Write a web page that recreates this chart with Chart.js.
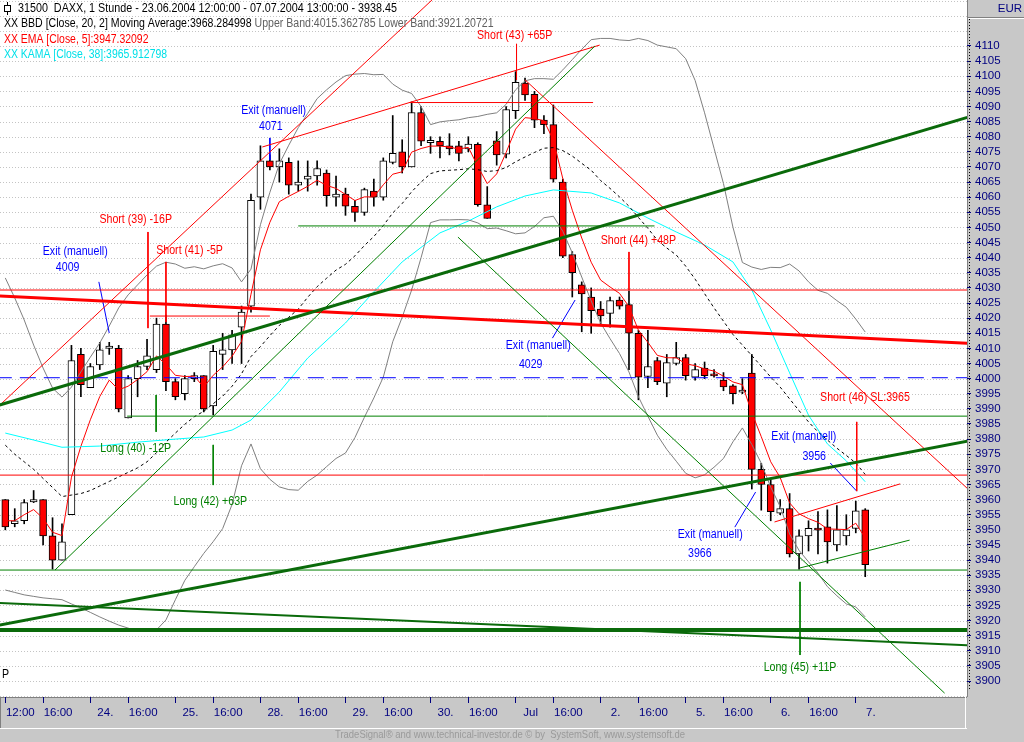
<!DOCTYPE html>
<html>
<head>
<meta charset="utf-8">
<script src="https://cdn.jsdelivr.net/npm/chart.js@4.4.1/dist/chart.umd.min.js"></script>
<style>
  html, body { margin: 0; padding: 0; background: #c8c8c8; }
  #wrap { position: relative; width: 1024px; height: 742px; }
</style>
</head>
<body>
<div id="wrap"><canvas id="chart" width="1024" height="742"></canvas></div>
<script>
// DAXX hourly bars, 23.06.2004 12:00 - 07.07.2004 13:00 (bar index 0..91)
const opens = [3960, 3952, 3953, 3959.2, 3960, 3948, 3940, 3955, 4008, 3997,
  4004.5, 4010, 4010, 3987, 4000, 4004, 4003, 4018, 3999, 3995,
  4000, 4001, 3991, 4008, 4009.5, 4017, 4024, 4060, 4072, 4070,
  4071.5, 4064, 4066, 4067, 4068, 4060, 4061, 4057, 4055, 4062,
  4060, 4071.5, 4075, 4070, 4088, 4078, 4078.5, 4077, 4077, 4076,
  4077.5, 4057.5, 4078.6, 4074.2, 4088.6, 4097.7, 4094, 4085.5, 4084, 4065,
  4041, 4031, 4027, 4023, 4021.6, 4026, 4024.5, 4015, 4000.7, 4006,
  3998.5, 4005, 4007, 4000.5, 4003.5, 4001.6, 3999.5, 3997.6, 3995.5, 4001.8,
  3970, 3965, 3955.5, 3957, 3942, 3948, 3950.6, 3951, 3945, 3948,
  3950.5, 3956.6];
const highs = [3960, 3957, 3960, 3963, 3960, 3954, 3952, 4011, 4010, 4005,
  4012, 4012, 4011, 4001, 4006, 4013, 4020, 4021, 4000, 4001,
  4002, 4001, 4011, 4015, 4016, 4024, 4061, 4077, 4074, 4076,
  4073, 4072, 4072, 4072, 4069, 4067, 4063, 4059, 4063, 4066,
  4073, 4087, 4079, 4091.5, 4090, 4080, 4080, 4081, 4078.5, 4080,
  4078, 4063.5, 4081.7, 4090, 4101.5, 4099.4, 4095, 4087, 4090.5, 4066,
  4042, 4032, 4030, 4025.5, 4027, 4027, 4029, 4016, 4016, 4007,
  4008, 4012, 4008, 4005, 4005.5, 4003, 4002, 3998, 4000, 4008,
  3972, 3966.5, 3960, 3962, 3950, 3953, 3956, 3956.6, 3958, 3955,
  3959.5, 3957];
const lows = [3950, 3951, 3952, 3959, 3945, 3937, 3940, 3955, 3994, 3997,
  4003, 4008, 3989, 3987, 3994, 4003, 4002, 3996, 3993, 3993,
  3999, 3989, 3988, 4003, 4005, 4005, 4022, 4056, 4069, 4065,
  4061, 4062, 4062, 4064, 4057, 4057, 4054, 4052, 4054, 4057,
  4059, 4071, 4068, 4070, 4077, 4074.5, 4073, 4074, 4072, 4075,
  4057, 4053, 4070.6, 4073, 4086, 4092, 4083, 4081, 4065, 4040,
  4027, 4015.5, 4015, 4017.7, 4017, 4023, 4003, 3993, 3997, 3998,
  3994, 4004.5, 3999.5, 3999.5, 4000, 4000.5, 3996, 3991.6, 3995, 3963.5,
  3956.5, 3953, 3955, 3941, 3937, 3943, 3942, 3939, 3943, 3945,
  3949, 3934.5];
const closes = [3951, 3953, 3959, 3960, 3948, 3940, 3946, 4006, 3998, 4004,
  4009.5, 4010.8, 3990, 4000, 4004, 4007.5, 4018, 3999, 3994, 4000,
  4001, 3990, 4009, 4009.5, 4014.5, 4022, 4059, 4072, 4070, 4072,
  4064, 4065, 4067, 4069.5, 4060.5, 4061, 4057, 4055, 4062.5, 4060,
  4072, 4074.5, 4070, 4088, 4078.5, 4078.8, 4077, 4076, 4074.5, 4077.6,
  4057.5, 4053, 4074, 4089, 4098, 4093.8, 4085.5, 4084, 4066, 4040.5,
  4035, 4028, 4022.5, 4020.7, 4025.8, 4024, 4015, 4000.5, 4004, 3999,
  4005.3, 4007, 4001, 4003, 4001, 4000.9, 3997.3, 3995, 3996.2, 3970,
  3965, 3956, 3957, 3942, 3948, 3950.5, 3949.9, 3946, 3950, 3950,
  3956.3, 3938.45];

// Bollinger bands (20, 2)
const bbUpper = [4033.3, 4026.7, 4019.4, 4011.1, 4003.5, 3996.9, 3993.9, 3997.2, 4002.2, 4007.1,
  4011.8, 4017.4, 4023.4, 4027.7, 4031.0, 4034.3, 4037.2, 4038.5, 4037.9, 4036.5,
  4037.0, 4036.3, 4037.3, 4038.0, 4036.6, 4032.0, 4036.2, 4050.9, 4061.6, 4071.0,
  4077.2, 4083.0, 4087.7, 4092.6, 4095.5, 4098.1, 4100.2, 4100.7, 4100.9, 4100.5,
  4100.6, 4097.4, 4095.4, 4094.3, 4090.0, 4084.0, 4084.9, 4085.3, 4085.6, 4086.3,
  4086.7, 4087.4, 4087.9, 4090.7, 4095.5, 4098.5, 4099.2, 4099.2, 4099.0, 4102.1,
  4105.5, 4108.9, 4112.1, 4112.5, 4112.5, 4112.0, 4111.8, 4112.5, 4111.8, 4110.3,
  4109.7, 4109.1, 4105.8, 4098.6, 4087.9, 4076.2, 4064.5, 4050.1, 4038.4, 4036.9,
  4036.1, 4036.8, 4036.7, 4037.9, 4035.6, 4032.0, 4029.2, 4028.2, 4025.8, 4023.6,
  4019.7, 4015.4];
const bbMid = [3978.0, 3975.0, 3972.5, 3970.0, 3967.0, 3964.0, 3961.0, 3961.5, 3962.0, 3963.0,
  3964.5, 3966.0, 3967.5, 3969.0, 3970.5, 3972.5, 3975.5, 3979.0, 3982.0, 3984.9,
  3987.4, 3989.2, 3991.7, 3994.2, 3997.5, 4001.6, 4007.3, 4010.6, 4014.2, 4017.6,
  4020.3, 4023.0, 4026.9, 4030.4, 4033.2, 4035.9, 4037.8, 4040.6, 4044.0, 4047.0,
  4050.6, 4054.8, 4057.9, 4061.8, 4065.0, 4067.8, 4068.7, 4068.9, 4069.1, 4069.4,
  4069.1, 4068.5, 4068.8, 4069.8, 4071.7, 4073.3, 4074.8, 4076.2, 4076.4, 4075.4,
  4073.6, 4071.2, 4068.9, 4065.5, 4062.9, 4060.1, 4057.0, 4053.3, 4049.7, 4045.8,
  4043.2, 4040.9, 4037.2, 4032.9, 4028.1, 4023.4, 4019.0, 4014.6, 4011.1, 4007.6,
  4004.1, 4000.5, 3997.2, 3993.3, 3989.4, 3985.7, 3982.4, 3979.7, 3977.0, 3974.6,
  3972.1, 3968.3];
const bbLower = [3930.1, 3929.3, 3928.5, 3928.0, 3927.5, 3927.2, 3926.9, 3925.5, 3924.2, 3922.7,
  3921.2, 3919.8, 3918.5, 3917.5, 3916.6, 3916.6, 3916.9, 3920.2, 3926.9, 3933.3,
  3937.8, 3942.2, 3946.1, 3950.4, 3958.4, 3971.2, 3978.4, 3970.2, 3966.7, 3964.2,
  3963.3, 3963.1, 3966.0, 3968.1, 3970.9, 3973.6, 3975.4, 3980.5, 3987.2, 3993.6,
  4000.5, 4012.2, 4020.3, 4029.3, 4040.0, 4051.6, 4052.5, 4052.5, 4052.6, 4052.5,
  4051.5, 4049.6, 4049.8, 4048.9, 4047.9, 4048.2, 4050.3, 4053.2, 4053.7, 4048.7,
  4041.6, 4033.6, 4025.7, 4018.4, 4013.2, 4008.3, 4002.2, 3994.0, 3987.6, 3981.3,
  3976.6, 3972.7, 3968.7, 3967.2, 3968.2, 3970.7, 3973.6, 3979.1, 3983.7, 3978.2,
  3972.0, 3964.1, 3957.7, 3948.6, 3943.2, 3939.4, 3935.7, 3931.2, 3928.2, 3925.5,
  3924.5, 3921.2];

// EMA (Close, 5)
const ema5 = [3953.0, 3953.0, 3955.0, 3956.7, 3953.8, 3949.2, 3948.1, 3967.4, 3977.6, 3986.4,
  3994.1, 3999.5, 3996.3, 3997.5, 3999.7, 4002.3, 4007.5, 4004.7, 4001.1, 4000.7,
  4000.8, 3997.2, 4001.1, 4003.9, 4007.4, 4012.3, 4027.9, 4042.6, 4051.7, 4058.5,
  4060.3, 4061.9, 4063.6, 4065.6, 4063.9, 4062.9, 4060.9, 4058.9, 4060.1, 4060.1,
  4064.1, 4067.6, 4068.4, 4074.9, 4076.1, 4076.9, 4076.9, 4076.6, 4075.9, 4076.5,
  4070.2, 4064.5, 4067.7, 4074.8, 4082.5, 4086.3, 4086.0, 4085.3, 4078.9, 4066.1,
  4055.7, 4046.5, 4038.5, 4032.6, 4030.3, 4028.2, 4023.8, 4016.0, 4012.0, 4007.7,
  4006.9, 4006.9, 4004.9, 4004.3, 4003.2, 4002.5, 4000.8, 3998.9, 3998.0, 3988.7,
  3980.8, 3972.5, 3967.3, 3958.9, 3955.3, 3953.7, 3952.5, 3950.3, 3950.2, 3950.1,
  3952.2, 3947.3];

// KAMA (Close, 38), read at selected bars
const kamaBar = [0, 3, 6, 10, 14, 18, 21, 24, 26, 29, 32, 36, 39, 42, 46, 49, 52, 55, 58,
  62, 65, 68, 71, 74, 77, 79, 81, 83, 85, 87, 89, 91];
const kamaVal = [3982.0, 3979.7, 3977.3, 3977.7, 3979.0, 3980.0, 3980.7, 3983.0, 3986.3, 3995.6,
  4006.8, 4018.4, 4028.7, 4038.6, 4048.2, 4052.1, 4056.8, 4060.4, 4062.4,
  4061.4, 4058.1, 4053.1, 4048.5, 4044.2, 4038.6, 4029.3, 4016.1, 4001.9, 3987.9, 3978.4,
  3972.8, 3965.9];

// axis ticks
const xTickBar = [0, 4, 9, 13, 18, 22, 27, 31, 36, 40, 45, 49, 54, 58, 63, 67, 72, 76, 81, 85, 90];
const xTickText = ['12:00', '16:00', '24.', '16:00', '25.', '16:00', '28.', '16:00', '29.', '16:00',
  '30.', '16:00', 'Jul', '16:00', '2.', '16:00', '5.', '16:00', '6.', '16:00', '7.'];
const yTickValues = [];
for (let v = 3900; v <= 4110; v += 5) yTickValues.push(v);

const RED = '#ff0000', GREEN = '#008000', DKGREEN = '#0a6a0a', BLUE = '#0000ff';

// drawn trend lines: [bar1, price1, bar2, price2, colour, width, dash]
const trendLines = [
  [-0.6, 3991.3, 101.8, 4086.4, DKGREEN, 3],
  [-0.6, 3918.5, 101.8, 3979.3, DKGREEN, 3],
  [-1, 3916.9, 103, 3916.9, DKGREEN, 4],
  [-0.6, 3925.8, 101.8, 3911.8, DKGREEN, 2],
  [-1, 3936.7, 103, 3936.7, GREEN, 1],
  [12.9, 3987.6, 103, 3987.6, GREEN, 1],
  [31, 4050.5, 68.7, 4050.5, GREEN, 1],
  [5.26, 3936.7, 62.4, 4110.0, GREEN, 1],
  [47.9, 4046.8, 99.4, 3896.0, GREEN, 1],
  [84.1, 3937.4, 95.7, 3946.6, GREEN, 1],
  [15.96, 3994.6, 15.96, 3982.4, GREEN, 1],
  [22, 3978.1, 22, 3964.8, GREEN, 1],
  [84.1, 3932.8, 84.1, 3908.6, GREEN, 1],
  [-0.56, 3991.3, 45.15, 4125.2, RED, 1],
  [27.2, 4076.6, 62.9, 4110.3, RED, 1],
  [42.8, 4091.3, 62.2, 4091.3, RED, 1],
  [55, 4098.8, 101.8, 3963.7, RED, 1],
  [-0.6, 4027.3, 101.8, 4011.7, RED, 3],
  [-1, 4029.3, 103, 4029.3, RED, 1],
  [-1, 3968.1, 103, 3968.1, RED, 1],
  [15.3, 4020.7, 28, 4020.7, RED, 1],
  [81.4, 3952.6, 94.7, 3965.2, RED, 1],
  [15.1, 4048.5, 15.1, 4016.7, RED, 1],
  [17.0, 4038.6, 17.0, 4018.7, RED, 1],
  [54.1, 4110.7, 54.1, 4098.8, RED, 1],
  [66.0, 4041.9, 66.0, 4029.3, RED, 1],
  [90.1, 3985.7, 90.1, 3962.8, RED, 1],
  [-1, 4000.3, 103, 4000.3, BLUE, 1, [16, 8]],
  [9.9, 4032.0, 11.0, 4015.1, BLUE, 1],
  [28.0, 4079.6, 28.0, 4072.3, BLUE, 1],
  [60.3, 4026.0, 57.9, 4013.4, BLUE, 1],
  [79.4, 3962.5, 77.2, 3950.9, BLUE, 1],
  [87.3, 3972.1, 90.1, 3962.8, BLUE, 1]
];

// trade labels: [text, bar, price, colour]
const labels = [
  ['Exit (manuell)', 7.4, 4041.9, BLUE], ['4009', 6.6, 4036.6, BLUE],
  ['Short (39) -16P', 13.8, 4052.5, RED], ['Short (41) -5P', 19.5, 4042.5, RED],
  ['Exit (manuell)', 28.4, 4088.8, BLUE], ['4071', 28.1, 4083.2, BLUE],
  ['Short (43) +65P', 53.9, 4113.6, RED], ['Short (44) +48P', 67.0, 4045.8, RED],
  ['Exit (manuell)', 56.4, 4010.8, BLUE], ['4029', 55.6, 4004.5, BLUE],
  ['Long (40) -12P', 13.8, 3977.0, GREEN], ['Long (42) +63P', 21.7, 3959.2, GREEN],
  ['Exit (manuell)', 74.6, 3948.3, BLUE], ['3966', 73.5, 3942.3, BLUE],
  ['Exit (manuell)', 84.5, 3980.7, BLUE], ['3956', 85.6, 3974.1, BLUE],
  ['Short (46) SL:3965', 90.97, 3993.6, RED], ['Long (45) +11P', 84.1, 3904.6, GREEN]
];

const FONT = '"Liberation Sans", Arial, sans-serif';

function drawText(ctx, s, x, y, color, align, size, sx) {
  ctx.save();
  ctx.font = size + 'px ' + FONT;
  ctx.fillStyle = color;
  ctx.textBaseline = 'middle';
  ctx.textAlign = align;
  const w = ctx.measureText(s).width * sx;
  ctx.translate(x, y);
  ctx.scale(sx, 1);
  ctx.fillText(s, 0, 0);
  ctx.restore();
  return w;
}

const framePlugin = {
  id: 'frame',
  beforeDraw(chart) {
    const ctx = chart.ctx, a = chart.chartArea;
    ctx.save();
    ctx.fillStyle = '#c8c8c8';
    ctx.fillRect(0, 0, chart.width, chart.height);
    ctx.fillStyle = '#ffffff';
    ctx.fillRect(a.left, a.top, a.right - a.left, a.bottom - a.top);
    // time axis panel
    ctx.fillStyle = '#808080';
    ctx.fillRect(0, a.bottom, a.right, 1);
    ctx.fillRect(0, a.bottom, 1, 728 - a.bottom);
    ctx.fillStyle = '#ffffff';
    ctx.fillRect(0, 728, a.right, 1);
    ctx.fillRect(a.right - 2, a.bottom, 1, 729 - a.bottom);
    // price axis panel
    ctx.fillStyle = '#808080';
    ctx.fillRect(a.right, 0, 1, a.bottom);
    ctx.fillRect(a.right, 17, chart.width - a.right, 1);
    ctx.fillStyle = '#ffffff';
    ctx.fillRect(a.right + 1, 18, chart.width - a.right, 1);
    ctx.restore();
  },
  beforeDatasetsDraw(chart) {
    const ctx = chart.ctx, a = chart.chartArea, ys = chart.scales.y;
    ctx.save();
    ctx.strokeStyle = '#c4c4c4';
    ctx.lineWidth = 1;
    ctx.setLineDash([1, 2]);
    for (let v = 3895; v <= 4125; v += 5) {
      const y = Math.round(ys.getPixelForValue(v)) + 0.5;
      if (y < a.top || y > a.bottom) continue;
      ctx.beginPath();
      ctx.moveTo(a.left, y);
      ctx.lineTo(a.right, y);
      ctx.stroke();
    }
    ctx.restore();
  },
  afterDatasetsDraw(chart) {
    const ctx = chart.ctx, a = chart.chartArea, xs = chart.scales.x, ys = chart.scales.y;
    ctx.save();
    ctx.beginPath();
    ctx.rect(a.left, a.top, a.right - a.left, a.bottom - a.top);
    ctx.clip();
    labels.forEach(([t, b, p, c]) => {
      drawText(ctx, t, xs.getPixelForValue(b), ys.getPixelForValue(p), c, 'center', 12.5, 0.85);
    });
    drawText(ctx, 'P', 2, ys.getPixelForValue(3902), '#000000', 'left', 12.5, 0.85);

    // header
    ctx.fillStyle = '#000';
    ctx.fillRect(7, 2, 1, 13);
    ctx.fillStyle = '#fff';
    ctx.strokeStyle = '#000';
    ctx.lineWidth = 1;
    ctx.fillRect(4.5, 5.5, 6, 6);
    ctx.strokeRect(4.5, 5.5, 6, 6);
    drawText(ctx, '31500  DAXX, 1 Stunde - 23.06.2004 12:00:00 - 07.07.2004 13:00:00 - 3938.45', 18, 9, '#000000', 'left', 12.5, 0.86);
    const w1 = drawText(ctx, 'XX BBD [Close, 20, 2] Moving Average:3968.284998', 4, 24, '#000000', 'left', 12.5, 0.845);
    drawText(ctx, ' Upper Band:4015.362785 Lower Band:3921.20721', 4 + w1, 24, '#606060', 'left', 12.5, 0.845);
    drawText(ctx, 'XX EMA [Close, 5]:3947.32092', 4, 40, RED, 'left', 12.5, 0.835);
    drawText(ctx, 'XX KAMA [Close, 38]:3965.912798', 4, 55, '#00e0e8', 'left', 12.5, 0.835);
    ctx.restore();
  },
  afterDraw(chart) {
    const ctx = chart.ctx, a = chart.chartArea;
    ctx.save();
    ctx.strokeStyle = '#000000';
    ctx.setLineDash([1, 2]);
    ctx.beginPath();
    ctx.moveTo(a.right + 2.5, 19);
    ctx.lineTo(a.right + 2.5, a.bottom - 6);
    ctx.stroke();
    ctx.setLineDash([]);
    drawText(ctx, 'EUR', 1010, 9, '#000080', 'center', 11.5, 1);
    ctx.font = '11px ' + FONT;
    const s = 'TradeSignal\u00ae and www.technical-investor.de \u00a9 by  SystemSoft, www.systemsoft.de';
    const w = ctx.measureText(s).width;
    drawText(ctx, s, 335, 735, '#9a9a9a', 'left', 11, 350 / w);
    ctx.restore();
  }
};

const lineSet = (data, color, width, dash, order) => ({
  type: 'line', data, borderColor: color, borderWidth: width, borderDash: dash || [],
  pointRadius: 0, fill: false, tension: 0, order
});

const datasets = [];
trendLines.forEach(([b1, p1, b2, p2, c, w, d]) => {
  datasets.push(lineSet([{ x: b1, y: p1 }, { x: b2, y: p2 }], c, w, d, 0));
});
datasets.push(lineSet(bbUpper.map((v, i) => ({ x: i, y: v })), '#808080', 1, null, 1));
datasets.push(lineSet(bbLower.map((v, i) => ({ x: i, y: v })), '#808080', 1, null, 1));
datasets.push(lineSet(bbMid.map((v, i) => ({ x: i, y: v })), '#000000', 1, [3, 3], 1));
datasets.push(lineSet(kamaBar.map((b, k) => ({ x: b, y: kamaVal[k] })), '#00ffff', 1, null, 1));
datasets.push(lineSet(ema5.map((v, i) => ({ x: i, y: v })), RED, 1, null, 1));
datasets.push({
  type: 'bar', order: 2, grouped: false, barThickness: 7,
  data: opens.map((o, i) => ({ x: i, y: [o, closes[i]] })),
  backgroundColor: opens.map((o, i) => closes[i] >= o ? '#ffffff' : RED),
  borderColor: '#000000', borderWidth: 1, borderSkipped: false
});
datasets.push({
  type: 'bar', order: 3, grouped: false, barThickness: 1,
  data: lows.map((l, i) => ({ x: i, y: [l, highs[i]] })),
  backgroundColor: '#000000', borderWidth: 0
});

new Chart(document.getElementById('chart'), {
  type: 'bar',
  data: { datasets },
  plugins: [framePlugin],
  options: {
    responsive: false,
    animation: false,
    events: [],
    layout: { padding: 0 },
    plugins: { legend: { display: false }, tooltip: { enabled: false } },
    scales: {
      x: {
        type: 'linear', position: 'bottom', offset: false,
        min: -0.56, max: 101.77,
        afterBuildTicks: s => { s.ticks = xTickBar.map(v => ({ value: v })); },
        afterFit: s => { s.height = 45; s.paddingLeft = 0; s.paddingRight = 0; },
        ticks: {
          autoSkip: false, maxRotation: 0, minRotation: 0, padding: 3, labelOffset: 15,
          color: '#000080', font: { family: FONT, size: 11.5 },
          callback: (v, i) => xTickText[i]
        },
        grid: { drawOnChartArea: false, offset: false, tickLength: 6, tickColor: '#000080' },
        border: { display: false }
      },
      y: {
        type: 'linear', position: 'right',
        min: 3894.72, max: 4125.21,
        afterBuildTicks: s => { s.ticks = yTickValues.map(v => ({ value: v })); },
        afterFit: s => { s.width = 57; s.paddingTop = 0; s.paddingBottom = 0; },
        ticks: {
          autoSkip: false, padding: 4, color: '#000080', font: { family: FONT, size: 11.5 },
          callback: v => String(v)
        },
        grid: { drawOnChartArea: false, tickLength: 4, tickColor: '#000080' },
        border: { display: false }
      }
    }
  }
});
</script>
</body>
</html>
